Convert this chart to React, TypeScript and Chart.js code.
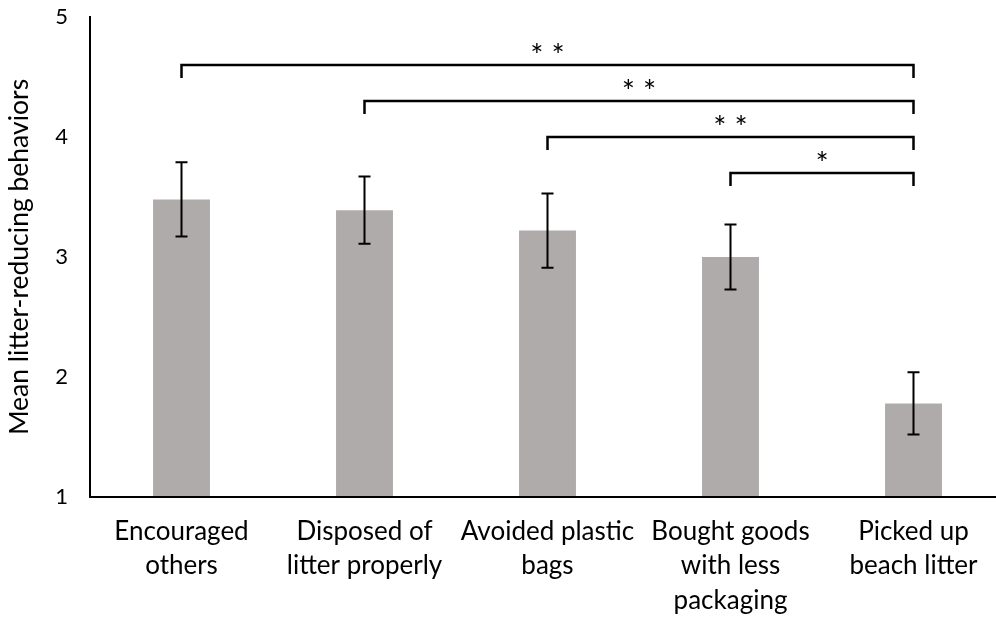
import React, { useEffect, useRef } from 'react';
import { Chart, registerables } from 'chart.js';

Chart.register(...registerables);

const categories: string[][] = [
  ['Encouraged', 'others'],
  ['Disposed of', 'litter properly'],
  ['Avoided plastic', 'bags'],
  ['Bought goods', 'with less', 'packaging'],
  ['Picked up', 'beach litter'],
];
const means = [3.48, 3.39, 3.22, 3.0, 1.78];
const errors = [0.31, 0.28, 0.31, 0.27, 0.26];
const bracketFrom = [0, 1, 2, 3];
const bracketTo = [4, 4, 4, 4];
const bracketLevels = [4.6, 4.3, 4.0, 3.7];
const bracketLabels = ['* *', '* *', '* *', '*'];
const yMin = 1;
const yMax = 5;
const yAxisTitle = 'Mean litter-reducing behaviors';

const FONT = 'Lato, "Open Sans", sans-serif';

const annotations = {
  id: 'annotations',
  afterDatasetsDraw(chart: any) {
    const ctx = chart.ctx;
    const meta = chart.getDatasetMeta(0);
    const y = chart.scales.y;
    ctx.save();
    // error bars
    ctx.strokeStyle = '#000';
    ctx.lineWidth = 2;
    means.forEach((m, i) => {
      const x = meta.data[i].x;
      const yt = y.getPixelForValue(m + errors[i]);
      const yb = y.getPixelForValue(m - errors[i]);
      ctx.beginPath();
      ctx.moveTo(x, yt);
      ctx.lineTo(x, yb);
      ctx.moveTo(x - 6, yt);
      ctx.lineTo(x + 6, yt);
      ctx.moveTo(x - 6, yb);
      ctx.lineTo(x + 6, yb);
      ctx.stroke();
    });
    // significance brackets
    ctx.lineWidth = 2.5;
    ctx.font = `31px ${FONT}`;
    ctx.fillStyle = '#000';
    ctx.textAlign = 'center';
    ctx.textBaseline = 'alphabetic';
    bracketLevels.forEach((lvl, k) => {
      const x1 = meta.data[bracketFrom[k]].x;
      const x2 = meta.data[bracketTo[k]].x;
      const yy = Math.round(y.getPixelForValue(lvl));
      ctx.beginPath();
      ctx.moveTo(x1, yy + 13);
      ctx.lineTo(x1, yy);
      ctx.lineTo(x2, yy);
      ctx.lineTo(x2, yy + 13);
      ctx.stroke();
      ctx.fillText(bracketLabels[k], (x1 + x2) / 2, yy + 1);
    });
    ctx.restore();
  },
};

export default function App() {
  const ref = useRef<HTMLCanvasElement | null>(null);
  useEffect(() => {
    if (!ref.current) return;
    const chart = new Chart(ref.current, {
      type: 'bar',
      data: {
        labels: categories,
        datasets: [
          {
            data: means,
            backgroundColor: '#AFABAB',
            borderWidth: 0,
            barPercentage: 0.311,
            categoryPercentage: 1,
          },
        ],
      },
      options: {
        animation: false,
        responsive: false,
        layout: { padding: { top: 0, left: 0, right: 0, bottom: 0 } },
        plugins: { legend: { display: false }, tooltip: { enabled: false } },
        scales: {
          x: {
            grid: { display: false, drawTicks: false },
            border: { display: true, color: '#000', width: 2, z: 1 },
            ticks: {
              color: '#000',
              font: { family: FONT, size: 26, lineHeight: 1.31 },
              padding: 18,
              maxRotation: 0,
              autoSkip: false,
            },
            afterFit: (s: any) => {
              s.height = 123;
            },
          },
          y: {
            min: yMin,
            max: yMax,
            grid: { display: false, drawTicks: false },
            border: { display: true, color: '#000', width: 2, z: 1 },
            ticks: {
              stepSize: 1,
              color: '#000',
              font: { family: FONT, size: 22 },
              padding: 22,
            },
            title: {
              display: true,
              text: yAxisTitle,
              color: '#000',
              font: { family: FONT, size: 26.5 },
              padding: { top: 4, bottom: 0 },
            },
            afterFit: (s: any) => {
              s.width = 90;
              s.paddingTop = 17;
              s.paddingBottom = 13;
            },
          },
        },
      },
      plugins: [annotations],
    });
    return () => chart.destroy();
  }, []);
  return (
    <div
      style={{
        position: 'fixed',
        left: 0,
        top: 0,
        width: 996,
        height: 620,
        overflow: 'hidden',
        background: '#fff',
      }}
    >
      <canvas ref={ref} width={1005} height={620} style={{ width: 1005, height: 620 }} />
    </div>
  );
}
